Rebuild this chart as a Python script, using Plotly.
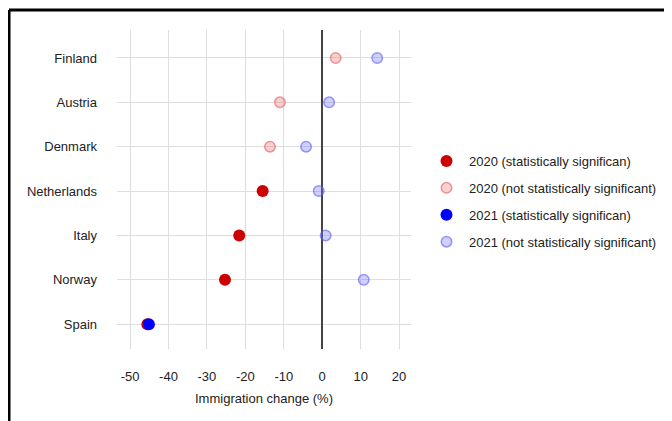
import plotly.graph_objects as go

countries = ["Spain", "Norway", "Italy", "Netherlands", "Denmark", "Austria", "Finland"]
change_2020 = [-45.5, -25.3, -21.6, -15.5, -13.6, -11.0, 3.5]
sig_2020 = [True, True, True, True, False, False, False]
change_2021 = [-45.1, 10.8, 0.9, -0.9, -4.2, 1.8, 14.3]
sig_2021 = [True, False, False, False, False, False, False]

x_ticks = [-50, -40, -30, -20, -10, 0, 10, 20]
legend_names = [
    "2020 (statistically significan)",
    "2020 (not statistically significant)",
    "2021 (statistically significan)",
    "2021 (not statistically significant)",
]

FONT = "Liberation Sans, Arial, sans-serif"
fig = go.Figure()


def pick(vals, sigs, want):
    xs, ys = [], []
    for c, v, s in zip(countries, vals, sigs):
        if s == want:
            xs.append(v)
            ys.append(c)
    return xs, ys


styles = [
    (change_2020, sig_2020, True, 12, "#cc0000", "#cc0000", 0),
    (change_2020, sig_2020, False, 10.5, "rgba(235,120,120,0.35)", "rgba(225,90,90,0.6)", 1.5),
    (change_2021, sig_2021, True, 12, "#0000ff", "#0000ff", 0),
    (change_2021, sig_2021, False, 10.5, "rgba(120,120,255,0.35)", "rgba(90,90,245,0.6)", 1.5),
]

for i, (vals, sigs, want, size, fill, line, lw) in enumerate(styles):
    xs, ys = pick(vals, sigs, want)
    fig.add_trace(go.Scatter(
        x=xs, y=ys, mode="markers", name=legend_names[i], legendgroup=f"g{i}",
        marker=dict(symbol="circle", size=size, color=fill, line=dict(color=line, width=lw)),
    ))

# page has an 8px body margin; work in figure coordinates
W, H = 664, 413
L, R, T, B = 109, 403, 22, 341
px = lambda x: (x - L) / (R - L)
py = lambda y: (B - y) / (B - T)

fig.update_layout(
    width=W, height=H,
    margin=dict(l=L, r=W - R, t=T, b=H - B, autoexpand=False),
    paper_bgcolor="white", plot_bgcolor="white",
    font=dict(family=FONT, size=13, color="#222"),
    legend=dict(x=px(416), y=py(138), xanchor="left", yanchor="top",
                font=dict(size=13, color="#222"), tracegroupgap=7, itemwidth=35,
                bgcolor="rgba(0,0,0,0)"),
    showlegend=True,
    shapes=[
        dict(type="line", xref="paper", yref="paper", x0=px(1), x1=px(700),
             y0=py(2), y1=py(2), line=dict(color="black", width=3)),
        dict(type="line", xref="paper", yref="paper", x0=px(1), x1=px(1),
             y0=py(2), y1=py(430), line=dict(color="black", width=3)),
    ],
)

fig.update_xaxes(
    range=[-53.4, 23.1], tickvals=x_ticks, ticktext=[str(v) for v in x_ticks],
    showgrid=True, gridcolor="#dedede", gridwidth=1,
    zeroline=True, zerolinecolor="#444", zerolinewidth=1.5,
    showline=False, ticks="", ticklabelstandoff=18,
    title=dict(text="Immigration change (%)", standoff=10, font=dict(size=13)),
    tickfont=dict(size=13, color="#222"),
)
fig.update_yaxes(
    type="category", categoryorder="array", categoryarray=countries,
    range=[-0.56, 6.63],
    showgrid=True, gridcolor="#dedede", gridwidth=1,
    zeroline=False, showline=False, ticks="", ticklabelstandoff=19,
    tickfont=dict(size=13, color="#222"),
)

fig.write_html("out.html")
